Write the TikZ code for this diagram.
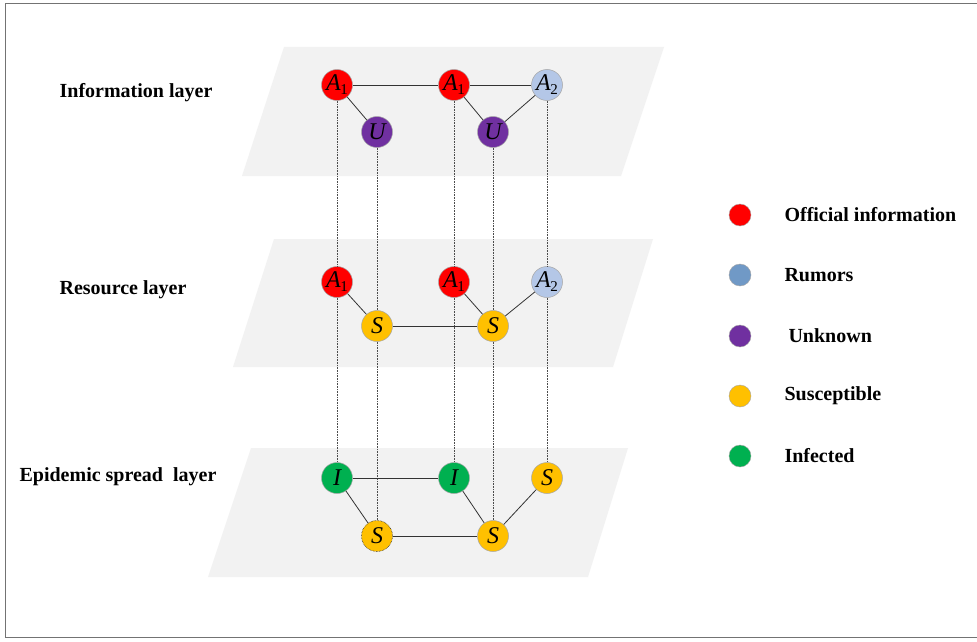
\documentclass[tikz,border=0pt]{standalone}
\usepackage{fontspec}
\setmainfont{Liberation Serif}
\newcommand{\lbA}[1]{\textit{A}\kern-0.5pt\raisebox{-4pt}{\upshape\fontsize{15}{15}\selectfont #1}}
\begin{document}
\begin{tikzpicture}[x=1pt,y=-1pt,
  layer/.style={fill=black!5,draw=none},
  st/.style={circle,draw=black!35,line width=0.5pt,minimum size=31pt,inner sep=0pt,font=\fontsize{24}{24}\selectfont\itshape},
  lg/.style={circle,draw=black!35,line width=0.4pt,minimum size=22pt,inner sep=0pt},
  lgtext/.style={anchor=west,font=\fontsize{20}{20}\selectfont\bfseries},
  laytext/.style={font=\fontsize{20}{20}\selectfont\bfseries},
  edge/.style={draw=black!80,line width=0.8pt},
  vdot/.style={draw=black!70,line width=0.6pt,densely dotted}]
\definecolor{cred}{HTML}{FF0000}
\definecolor{clblue}{HTML}{B4C7E7}
\definecolor{cblue}{HTML}{7099C6}
\definecolor{cpurple}{HTML}{7030A0}
\definecolor{cyellow}{HTML}{FFC000}
\definecolor{cgreen}{HTML}{00B050}
\useasboundingbox (0,0) rectangle (977,642);
\fill[white] (0,0) rectangle (977,642);
\draw[black!55,line width=1pt] (977,4) -- (5,4) -- (5,637) -- (977,637);
% layers
\fill[layer] (284,47) -- (664,47) -- (621,176) -- (242,176) -- cycle;
\fill[layer] (274,239) -- (653,239) -- (613,367) -- (233,367) -- cycle;
\fill[layer] (251,448) -- (628,448) -- (588,577) -- (208,577) -- cycle;
% layer labels
\node[laytext] (l1) at (136,93) {Information layer};
\node[laytext] (l2) at (123,290) {Resource layer};
\node[laytext] (l3) at (118,477) {Epidemic spread\ \ layer};
% info layer
\node[st,fill=cred] (ia) at (337,85) {\lbA{1}};
\node[st,fill=cred] (ib) at (454,85) {\lbA{1}};
\node[st,fill=clblue] (ic) at (547,85) {\lbA{2}};
\node[st,fill=cpurple] (iu) at (377,132) {U};
\node[st,fill=cpurple] (iv) at (493,132) {U};
% resource layer
\node[st,fill=cred] (ra) at (337,282) {\lbA{1}};
\node[st,fill=cred] (rb) at (454,282) {\lbA{1}};
\node[st,fill=clblue] (rc) at (547,282) {\lbA{2}};
\node[st,fill=cyellow] (rs) at (377,326) {S};
\node[st,fill=cyellow] (rt) at (493,326) {S};
% epidemic layer
\node[st,fill=cgreen] (ea) at (337,478) {I};
\node[st,fill=cgreen] (eb) at (454,478) {I};
\node[st,fill=cyellow] (ec) at (547,478) {S};
\node[st,fill=cyellow,draw=black!80,densely dotted,line width=0.7pt] (es) at (377,536) {S};
\node[st,fill=cyellow] (et) at (493,536) {S};
% vertical dotted lines
\draw[vdot] (ia.south) -- (ra.north);
\draw[vdot] (ra.south) -- (ea.north);
\draw[vdot] (iu.south) -- (rs.north);
\draw[vdot] (rs.south) -- (es.north);
\draw[vdot] (ib.south) -- (rb.north);
\draw[vdot] (rb.south) -- (eb.north);
\draw[vdot] (iv.south) -- (rt.north);
\draw[vdot] (rt.south) -- (et.north);
\draw[vdot] (ic.south) -- (rc.north);
\draw[vdot] (rc.south) -- (ec.north);
% edges
\draw[edge] (ia) -- (ib);
\draw[edge] (ib) -- (ic);
\draw[edge] (ia) -- (iu);
\draw[edge] (ib) -- (iv);
\draw[edge] (iv) -- (ic);
\draw[edge] (ra) -- (rs);
\draw[edge] (rs) -- (rt);
\draw[edge] (rb) -- (rt);
\draw[edge] (rt) -- (rc);
\draw[edge] (ea) -- (eb);
\draw[edge] (ea) -- (es);
\draw[edge] (es) -- (et);
\draw[edge] (eb) -- (et);
\draw[edge] (et) -- (ec);
% legend
\node[lg,fill=cred] (g1) at (740,215) {};
\node[lg,fill=cblue] (g2) at (740,275) {};
\node[lg,fill=cpurple] (g3) at (740,336) {};
\node[lg,fill=cyellow] (g4) at (740,396) {};
\node[lg,fill=cgreen] (g5) at (740,456) {};
\node[lgtext] (t1) at (781,215) {Official information};
\node[lgtext] (t2) at (781,275) {Rumors};
\node[lgtext] (t3) at (785,336) {Unknown};
\node[lgtext] (t4) at (781,396) {Susceptible};
\node[lgtext] (t5) at (781,456) {Infected};
\end{tikzpicture}
\end{document}
